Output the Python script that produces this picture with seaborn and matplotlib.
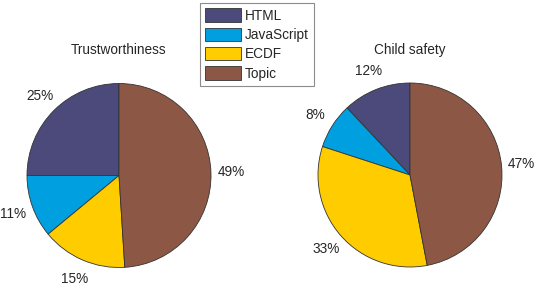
import matplotlib
matplotlib.use("Agg")
import matplotlib.pyplot as plt
import matplotlib.patches as mpatches
import seaborn as sns

categories = ["HTML", "JavaScript", "ECDF", "Topic"]
trust_values = [25, 11, 15, 49]
child_values = [12, 8, 33, 47]
titles = ["Trustworthiness", "Child safety"]
colors = ["#4B4A7A", "#009FDF", "#FFCC00", "#8C5845"]

sns.set_theme(style="white")
plt.rcParams["font.family"] = ["Liberation Sans", "DejaVu Sans"]
FS = 9.8

W, H = 540, 297
fig = plt.figure(figsize=(W / 100, H / 100), dpi=100)

R = 92.0
half = 1.25
centers = [(119.0, 175.5), (410.0, 175.0)]
for (cx, cy), vals, title in zip(centers, [trust_values, child_values], titles):
    ext = half * R
    ax = fig.add_axes([(cx - ext) / W, (H - cy - ext) / H, 2 * ext / W, 2 * ext / H])
    ax.pie(vals, colors=colors, startangle=90, counterclock=True,
           autopct="%1.0f%%", pctdistance=1.22,
           wedgeprops=dict(edgecolor="#333333", linewidth=0.6),
           textprops=dict(fontsize=FS, color="#262626"))
    ax.set_xlim(-half, half)
    ax.set_ylim(-half, half)
    ax.set_aspect("equal")
    ax.axis("off")
    fig.text(cx / W, 1 - 50 / H, title, ha="center", va="center",
             fontsize=FS, color="#262626")

handles = [mpatches.Patch(facecolor=c, edgecolor="#333333", linewidth=0.6, label=l)
           for c, l in zip(colors, categories)]
leg = fig.legend(handles=handles, loc="upper left",
                 bbox_to_anchor=(200 / W, 1 - 3 / H), fontsize=FS,
                 frameon=True, fancybox=False, framealpha=1,
                 edgecolor="#8c8c8c", handlelength=2.6, handleheight=1.1,
                 labelspacing=0.38, borderpad=0.4, handletextpad=0.3,
                 borderaxespad=0)
leg.get_frame().set_linewidth(0.8)
for t in leg.get_texts():
    t.set_color("#262626")

fig.savefig("out.png", dpi=100)
